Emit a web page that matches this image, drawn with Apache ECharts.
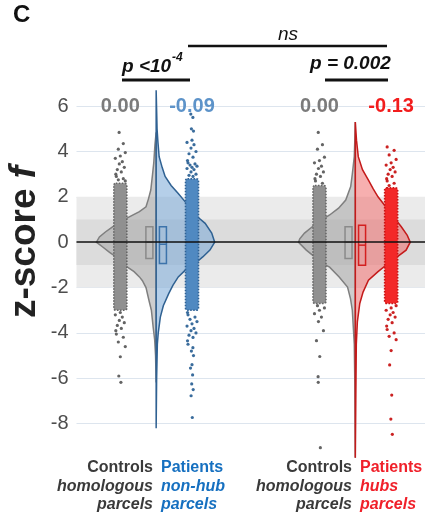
<!DOCTYPE html>
<html><head><meta charset="utf-8">
<script src="https://cdn.jsdelivr.net/npm/echarts@6/dist/echarts.min.js"></script>
<style>html,body{margin:0;padding:0;background:#fff}#c{width:425px;height:515px}</style>
</head><body><div id="c"></div>
<script>
// ---------------- data ----------------
const groupCenters = [1, 2];
const yTicks = [-8, -6, -4, -2, 0, 2, 4, 6];
const meanLabels = ['0.00', '-0.09', '0.00', '-0.13'];

// half-violin profiles: [z-score, relative density]
const violinCtrl1 = [[4.84,0],[4.3,0.02],[3.5,0.04],[3.0,0.06],[2.3,0.09],[1.9,0.13],[1.56,0.17],[1.35,0.28],[1.12,0.45],[0.9,0.6],[0.68,0.73],[0.45,0.85],[0.23,0.95],[0,1.0],[-0.2,0.9],[-0.45,0.78],[-0.65,0.67],[-0.9,0.58],[-1.1,0.48],[-1.3,0.37],[-1.53,0.28],[-1.7,0.23],[-2.0,0.17],[-2.57,0.12],[-3.0,0.08],[-3.75,0.05],[-4.3,0.025],[-5.0,0.01],[-6.18,0]];
const violinPat1 = [[6.7,0],[5.6,0.01],[5.0,0.015],[4.4,0.03],[3.77,0.05],[3.3,0.1],[2.9,0.15],[2.5,0.25],[2.15,0.37],[1.8,0.48],[1.4,0.6],[1.1,0.7],[0.83,0.82],[0.4,0.93],[0,0.98],[-0.35,0.9],[-0.65,0.78],[-0.94,0.65],[-1.2,0.5],[-1.53,0.37],[-1.9,0.28],[-2.27,0.21],[-2.8,0.12],[-3.3,0.07],[-4.0,0.035],[-4.5,0.02],[-6,0.008],[-8.2,0]];
const violinCtrl2 = [[5.3,0],[4.5,0.008],[3.77,0.017],[3.0,0.05],[2.45,0.077],[1.86,0.16],[1.5,0.28],[1.2,0.43],[0.95,0.58],[0.68,0.72],[0.4,0.85],[0.15,0.93],[0,0.95],[-0.35,0.82],[-0.65,0.68],[-0.94,0.55],[-1.1,0.43],[-1.53,0.27],[-1.98,0.13],[-2.5,0.08],[-3.0,0.05],[-4.5,0.017],[-6.2,0.008],[-9.5,0]];
const violinPat2 = [[5.3,0],[4.5,0.02],[3.77,0.05],[3.2,0.12],[2.74,0.22],[2.35,0.3],[2.0,0.38],[1.6,0.5],[1.28,0.6],[0.95,0.69],[0.68,0.77],[0.3,0.87],[0,0.92],[-0.35,0.85],[-0.65,0.7],[-0.94,0.55],[-1.3,0.38],[-1.68,0.22],[-2.2,0.13],[-2.7,0.075],[-3.5,0.035],[-4.5,0.017],[-7,0.008],[-9.5,0]];

// boxes: [q1, median, q3]
const boxCtrl1 = [-0.72, 0.0, 0.68];
const boxPat1  = [-0.94, -0.09, 0.68];
const boxCtrl2 = [-0.72, 0.0, 0.68];
const boxPat2  = [-1.02, -0.13, 0.75];

// dense point cores: [low, high]
const coreCtrl1 = [-3.0, 2.6];
const corePat1  = [-3.0, 2.8];
const coreCtrl2 = [-2.7, 2.5];
const corePat2  = [-2.7, 2.4];

// sparse points outside the dense core
const ptsCtrl1 = [4.84,4.35,4.1,3.95,3.8,3.7,3.55,3.45,3.3,3.2,3.1,3.0,2.9,2.8,2.75,2.7,-3.1,-3.2,-3.3,-3.45,-3.55,-3.67,-3.8,-3.9,-4.05,-4.19,-4.4,-4.6,-5.05,-5.9,-6.18];
const ptsPat1  = [5.65,5.5,5.0,4.9,4.5,4.4,4.3,4.15,4.0,3.9,3.75,3.6,3.5,3.45,3.4,3.35,3.3,3.25,3.2,3.1,3.0,2.95,2.9,-3.1,-3.2,-3.3,-3.4,-3.5,-3.6,-3.7,-3.8,-3.9,-4.0,-4.1,-4.2,-4.35,-4.5,-4.65,-4.8,-5.0,-5.4,-5.55,-5.85,-6.25,-6.5,-6.77,-7.73];
const ptsCtrl2 = [4.84,4.3,4.1,3.75,3.6,3.5,3.35,3.25,3.1,3.0,2.9,2.8,2.7,2.6,-2.8,-2.9,-3.0,-3.15,-3.3,-3.5,-3.9,-4.34,-5.04,-5.93,-6.18,-9.06];
const ptsPat2  = [4.2,4.05,3.85,3.65,3.5,3.4,3.3,3.2,3.1,3.0,2.9,2.8,2.7,2.6,2.5,-2.8,-2.9,-3.0,-3.1,-3.2,-3.3,-3.4,-3.55,-3.7,-3.85,-4.0,-4.15,-4.3,-4.78,-5.41,-6.74,-7.8,-8.47];

// ---------------- styling / layout ----------------
const FONT = '"Liberation Sans", Arial, sans-serif';
const VW = 0.3;          // max half-width of violin in x units
const STRIP = 0.18;      // offset of point strip from violin centre
const BOXOFF = 0.034;    // offset of box centre
const BOXW = 7;          // box width px
const CORE_W = 13;       // dense strip width px
const jitter = [-4,3,-2,5,0,-5,2,-1,4,-3,1,-4.5];

const C = {
  grey:  {fill:'rgba(165,165,165,0.55)', stroke:'#7f7f7f', pt:'#5c5c5c', core:'#909090', coreS:'#666666', box:'#8a8a8a'},
  blue:  {fill:'rgba(120,168,215,0.55)', stroke:'#2f6192', pt:'#2f6497', core:'#5089c1', coreS:'#2f6194', box:'#3c73ab'},
  red:   {fill:'rgba(240,110,110,0.55)', stroke:'#c41a1a', pt:'#c81616', core:'#f32828', coreS:'#c81616', box:'#d42020'}
};

function violin(profile, cx, side, col) {
  return {type:'custom', z:2, silent:true, data:[[cx, 0]],
    renderItem(params, api) {
      const top = api.coord([cx, profile[0][0]]);
      const bot = api.coord([cx, profile[profile.length-1][0]]);
      const pts = profile.map(p => api.coord([cx + side*p[1]*VW, p[0]]));
      return {type:'polygon', shape:{points:[top, ...pts, bot]},
        style:{fill:col.fill, stroke:col.stroke, lineWidth:1.5}};
    }};
}
function box(b, cx, col) {
  return {type:'custom', z:3, silent:true, data:[[cx, b[1]]],
    renderItem(params, api) {
      const q1 = api.coord([cx, b[0]]), md = api.coord([cx, b[1]]), q3 = api.coord([cx, b[2]]);
      const x0 = q1[0] - BOXW/2;
      return {type:'group', children:[
        {type:'rect', shape:{x:x0, y:q3[1], width:BOXW, height:q1[1]-q3[1]}, style:{fill:'none', stroke:col.box, lineWidth:1.5}},
        {type:'line', shape:{x1:x0, y1:md[1], x2:x0+BOXW, y2:md[1]}, style:{stroke:col.box, lineWidth:1.5}}
      ]};
    }};
}
function core(r, cx, col) {
  return {type:'custom', z:4, silent:true, data:[[cx, r[1]]],
    renderItem(params, api) {
      const hi = api.coord([cx, r[1]]), lo = api.coord([cx, r[0]]);
      return {type:'rect', shape:{x:hi[0]-CORE_W/2, y:hi[1], width:CORE_W, height:lo[1]-hi[1], r:2},
        style:{fill:col.core, stroke:col.coreS, lineWidth:1.6, lineDash:[1.5,1.5]}};
    }};
}
function points(arr, cx, col) {
  return {type:'scatter', z:5, silent:true, symbolSize:3.2,
    itemStyle:{color:col.pt, opacity:0.95},
    data: arr.map((v, i) => [cx + jitter[i % jitter.length]/200 * (Math.abs(v) > 4.6 ? 0.3 : 1), v])};
}

const g1 = groupCenters[0], g2 = groupCenters[1];
const series = [
  {type:'line', data:[], z:1, silent:true,
    markArea:{silent:true, z:1, itemStyle:{color:'#ebebeb'}, data:[[{yAxis:-2},{yAxis:2}]]}},
  {type:'line', data:[], z:1, silent:true,
    markArea:{silent:true, z:1, itemStyle:{color:'#dcdcdc'}, data:[[{yAxis:-1},{yAxis:1}]]}},
  violin(violinCtrl1, g1, -1, C.grey),
  violin(violinPat1,  g1,  1, C.blue),
  violin(violinCtrl2, g2, -1, C.grey),
  violin(violinPat2,  g2,  1, C.red),
  box(boxCtrl1, g1 - BOXOFF, C.grey),
  box(boxPat1,  g1 + BOXOFF, C.blue),
  box(boxCtrl2, g2 - BOXOFF, C.grey),
  box(boxPat2,  g2 + BOXOFF, C.red),
  core(coreCtrl1, g1 - STRIP, C.grey),
  core(corePat1,  g1 + STRIP, C.blue),
  core(coreCtrl2, g2 - STRIP, C.grey),
  core(corePat2,  g2 + STRIP, C.red),
  points(ptsCtrl1, g1 - STRIP, C.grey),
  points(ptsPat1,  g1 + STRIP, C.blue),
  points(ptsCtrl2, g2 - STRIP, C.grey),
  points(ptsPat2,  g2 + STRIP, C.red),
  {type:'line', data:[], z:20, silent:true,
    markLine:{silent:true, z:20, symbol:'none', label:{show:false},
      lineStyle:{color:'#111', width:1.6, type:'solid'}, data:[{yAxis:0}]}}
];

const chart = echarts.init(document.getElementById('c'), null, {renderer:'canvas'});
const gridColors = ['rgba(0,0,0,0)','#dde5ee','#dde5ee','#dde5ee','#dde5ee','#dde5ee','#dde5ee','#dde5ee','#dde5ee','rgba(0,0,0,0)'];
chart.setOption({
  animation:false,
  backgroundColor:'#fff',
  grid:{left:76.5, top:60.76, width:350, height:408.24, containLabel:false},
  xAxis:{type:'value', min:0.6, max:2.35, show:false},
  yAxis:{type:'value', min:-10, max:8, interval:2,
    axisLine:{show:false}, axisTick:{show:false},
    axisLabel:{margin:8, color:'#4d4d4d', fontSize:20, fontFamily:FONT,
      formatter:v => (yTicks.indexOf(v) >= 0 ? String(v) : '')},
    splitLine:{show:true, lineStyle:{color:gridColors, width:1.2}}},
  series
});

// ---------------- annotations ----------------
const labelX = [g1 - STRIP, g1 + STRIP, g2 - STRIP, g2 + STRIP];
const labelCol = ['#7b7b7b', '#5d93c9', '#7b7b7b', '#f21d1d'];
const gfx = [];
labelX.forEach((x, i) => {
  const p = chart.convertToPixel({gridIndex:0}, [x, 6]);
  gfx.push({type:'text', x:p[0], y:p[1], z:30,
    style:{text:meanLabels[i], fill:labelCol[i], font:'bold 20px ' + FONT, align:'center', verticalAlign:'middle'}});
});
const sup = {
  a:{fontFamily:FONT, fontWeight:'bold', fontStyle:'italic', fontSize:19, fill:'#111', lineHeight:24, verticalAlign:'bottom'},
  s:{fontFamily:FONT, fontWeight:'bold', fontStyle:'italic', fontSize:12, fill:'#111', lineHeight:24, verticalAlign:'top', padding:[0,0,0,1]}
};
gfx.push(
  {type:'text', x:13, y:15, style:{text:'C', font:'bold 24px ' + FONT, fill:'#111', verticalAlign:'middle'}},
  {type:'text', x:288, y:35, style:{text:'ns', font:'italic 19px ' + FONT, fill:'#111', align:'center', verticalAlign:'middle'}},
  {type:'line', shape:{x1:188, y1:46, x2:387, y2:46}, style:{stroke:'#111', lineWidth:2.5}},
  {type:'text', x:122, y:64, style:{rich:sup, text:'{a|p <10}{s|-4}', verticalAlign:'middle'}},
  {type:'line', shape:{x1:122, y1:80, x2:190, y2:80}, style:{stroke:'#111', lineWidth:3}},
  {type:'text', x:310, y:64, style:{text:'p = 0.002', font:'bold italic 19px ' + FONT, fill:'#111', verticalAlign:'middle'}},
  {type:'line', shape:{x1:325, y1:80, x2:388, y2:80}, style:{stroke:'#111', lineWidth:3}},
  {type:'text', x:25, y:242, rotation:Math.PI/2,
    style:{rich:{a:{fontFamily:FONT, fontWeight:'bold', fontSize:37, fill:'#222'}, b:{fontFamily:FONT, fontWeight:'bold', fontStyle:'italic', fontSize:37, fill:'#222'}},
      text:'{a|z-score }{b|f}', align:'center', verticalAlign:'middle'}}
);
// category labels under the plot
const catLines = [
  {x:153, align:'right', col:'#3a3a3a', lines:['Controls','homologous','parcels']},
  {x:161, align:'left',  col:'#1670c0', lines:['Patients','non-hub','parcels']},
  {x:352, align:'right', col:'#3a3a3a', lines:['Controls','homologous','parcels']},
  {x:360, align:'left',  col:'#f0202a', lines:['Patients','hubs','parcels']}
];
const lineY = [468, 486.5, 505];
catLines.forEach(c => c.lines.forEach((t, i) => {
  gfx.push({type:'text', x:c.x, y:lineY[i],
    style:{text:t, fill:c.col, font:(i === 0 ? 'bold ' : 'italic bold ') + '16px ' + FONT, align:c.align, verticalAlign:'middle'}});
}));
chart.setOption({graphic:{elements:gfx}});
</script></body></html>
